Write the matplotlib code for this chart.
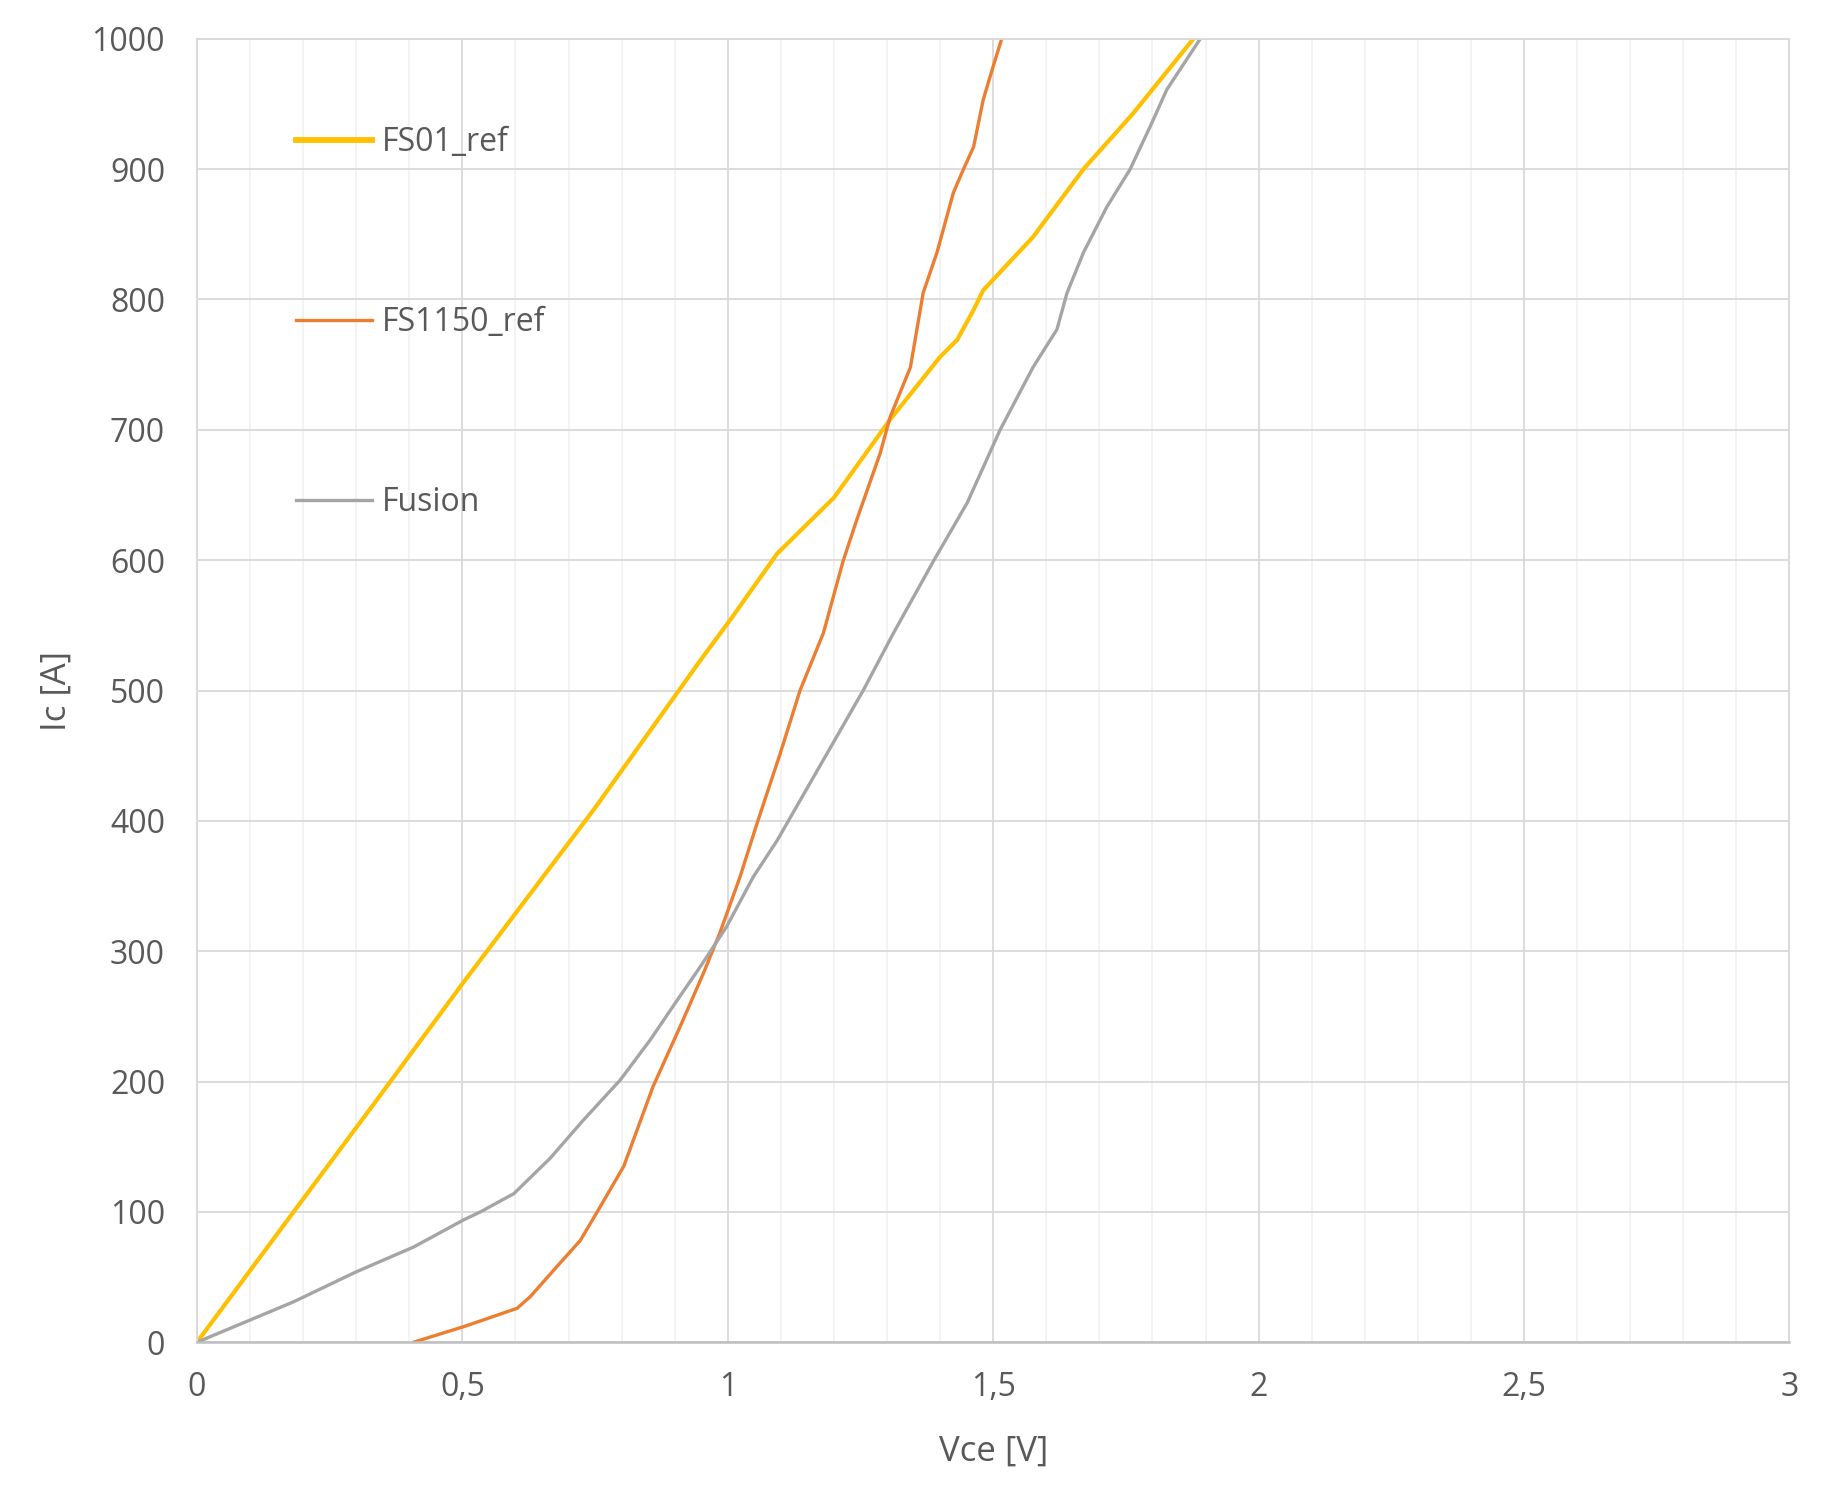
import matplotlib
matplotlib.use('Agg')
import matplotlib.pyplot as plt
from matplotlib.ticker import MultipleLocator, FuncFormatter

# values
vce_fs01 = [0, 0.182, 0.339, 0.5, 0.75, 0.948, 1.006, 1.093, 1.2, 1.306,
            1.40, 1.432, 1.463, 1.481, 1.575, 1.67, 1.764, 1.877]
ic_fs01 = [0, 100, 186, 275, 410, 523, 555, 605, 648, 708,
           756, 769, 792, 807, 848, 900, 943, 1000]

vce_fs1150 = [0.408, 0.503, 0.603, 0.628, 0.678, 0.722, 0.754, 0.804, 0.859, 0.910,
              0.954, 0.985, 1.023, 1.055, 1.099, 1.136, 1.18, 1.217, 1.243, 1.287,
              1.306, 1.344, 1.368, 1.394, 1.425, 1.444, 1.463, 1.481, 1.5, 1.516]
ic_fs1150 = [0, 12, 26, 35, 58, 78, 100, 135, 196, 242,
             283, 314, 357, 398, 452, 500, 544, 599, 631, 682,
             710, 748, 805, 836, 882, 900, 917, 953, 979, 1000]

vce_fusion = [0, 0.182, 0.30, 0.408, 0.503, 0.534, 0.597, 0.665, 0.727, 0.797,
              0.854, 0.904, 0.948, 0.998, 1.048, 1.093, 1.155, 1.255, 1.312, 1.387,
              1.451, 1.513, 1.575, 1.620, 1.639, 1.67, 1.714, 1.758, 1.796, 1.827, 1.89]
ic_fusion = [0, 31, 54, 73, 94, 100, 114, 141, 170, 201,
             232, 262, 288, 319, 357, 385, 429, 500, 544, 599,
             644, 700, 748, 777, 805, 836, 871, 900, 933, 961, 1000]

text_color = '#595959'
plt.rcParams['font.family'] = ['Open Sans', 'DejaVu Sans']

fig = plt.figure(figsize=(18.41, 14.93), dpi=100)
ax = fig.add_axes([0.107, 0.101, 0.865, 0.873])

ax.plot(vce_fs01, ic_fs01, color='#FFC000', lw=3.0, label='FS01_ref')
ax.plot(vce_fs1150, ic_fs1150, color='#ED7D31', lw=2.4, label='FS1150_ref')
ax.plot(vce_fusion, ic_fusion, color='#A5A5A5', lw=2.4, label='Fusion')

ax.set_xlim(0, 3)
ax.set_ylim(0, 1000)
ax.xaxis.set_major_locator(MultipleLocator(0.5))
ax.xaxis.set_minor_locator(MultipleLocator(0.1))
ax.yaxis.set_major_locator(MultipleLocator(100))
ax.xaxis.set_major_formatter(FuncFormatter(lambda v, p: f'{v:g}'.replace('.', ',')))

ax.grid(which='major', color='#d9d9d9', lw=1.3)
ax.grid(which='minor', axis='x', color='#f0f0f0', lw=1.1)
ax.set_axisbelow(True)

for side in ['left', 'top', 'right']:
    ax.spines[side].set_color('#d9d9d9')
    ax.spines[side].set_linewidth(1.3)
ax.spines['bottom'].set_color('#bfbfbf')
ax.spines['bottom'].set_linewidth(1.8)

ax.tick_params(which='both', length=0, colors=text_color, labelsize=23)
ax.tick_params(axis='y', pad=23)
ax.tick_params(axis='x', pad=21)

ax.set_xlabel('Vce [V]', color=text_color, fontsize=25, labelpad=22)
ax.set_ylabel('Ic [A]', color=text_color, fontsize=25, labelpad=13)

leg = ax.legend(loc='upper left', bbox_to_anchor=(0.044, 0.955), frameon=False,
                fontsize=23, labelspacing=4.6, handlelength=2.4, handletextpad=0.3,
                labelcolor=text_color)
leg.get_lines()[0].set_linewidth(4.2)

fig.savefig('out.png', dpi=100, facecolor='white')
